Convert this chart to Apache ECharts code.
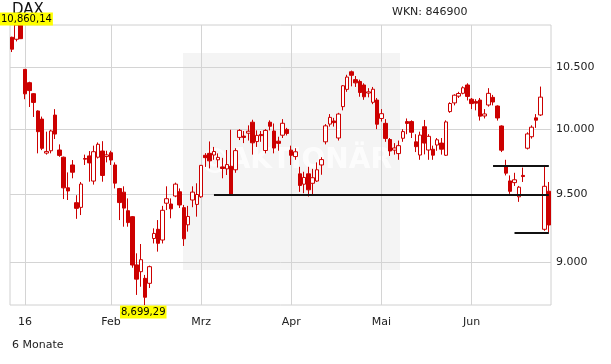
<!DOCTYPE html>
<html><head><meta charset="utf-8">
<script src="https://cdn.jsdelivr.net/npm/echarts@6/dist/echarts.min.js"></script>
<style>html,body{margin:0;padding:0;background:#fff}#c{width:611px;height:364px}</style>
</head><body><div id="c"></div>
<script>
const dates = [
'2015-12-28','2015-12-29','2015-12-30',
'2016-01-04','2016-01-05','2016-01-06','2016-01-07','2016-01-08','2016-01-11','2016-01-12','2016-01-13','2016-01-14','2016-01-15',
'2016-01-18','2016-01-19','2016-01-20','2016-01-21','2016-01-22','2016-01-25','2016-01-26','2016-01-27','2016-01-28','2016-01-29',
'2016-02-01','2016-02-02','2016-02-03','2016-02-04','2016-02-05','2016-02-08','2016-02-09','2016-02-10','2016-02-11','2016-02-12',
'2016-02-15','2016-02-16','2016-02-17','2016-02-18','2016-02-19','2016-02-22','2016-02-23','2016-02-24','2016-02-25','2016-02-26','2016-02-29',
'2016-03-01','2016-03-02','2016-03-03','2016-03-04','2016-03-07','2016-03-08','2016-03-09','2016-03-10','2016-03-11',
'2016-03-14','2016-03-15','2016-03-16','2016-03-17','2016-03-18','2016-03-21','2016-03-22','2016-03-23','2016-03-24','2016-03-29','2016-03-30','2016-03-31',
'2016-04-01','2016-04-04','2016-04-05','2016-04-06','2016-04-07','2016-04-08','2016-04-11','2016-04-12','2016-04-13','2016-04-14','2016-04-15',
'2016-04-18','2016-04-19','2016-04-20','2016-04-21','2016-04-22','2016-04-25','2016-04-26','2016-04-27','2016-04-28','2016-04-29',
'2016-05-02','2016-05-03','2016-05-04','2016-05-05','2016-05-06','2016-05-09','2016-05-10','2016-05-11','2016-05-12','2016-05-13',
'2016-05-17','2016-05-18','2016-05-19','2016-05-20','2016-05-23','2016-05-24','2016-05-25','2016-05-26','2016-05-27','2016-05-30','2016-05-31',
'2016-06-01','2016-06-02','2016-06-03','2016-06-06','2016-06-07','2016-06-08','2016-06-09','2016-06-10','2016-06-13','2016-06-14','2016-06-15',
'2016-06-16','2016-06-17','2016-06-20','2016-06-21','2016-06-22','2016-06-23','2016-06-24','2016-06-27'];

const open = [10755,10738,10858,
10485,10375,10285,10145,10080,9812,9830,10112,9836,9780,9546,9720,9434,9399,9770,9790,9597,9780,9828,9785,
9815,9720,9540,9513,9374,9330,8980,8932,8885,8850,9170,9237,9159,9430,9424,9484,9516,9397,9270,9454,9421,
9478,9795,9810,9797,9760,9705,9690,9710,9683,9935,9945,9968,10055,9902,9958,9832,10055,9985,9905,9952,9998,
9835,9785,9652,9573,9652,9580,9597,9720,9900,10040,10065,9930,10180,10320,10465,10400,10385,10356,10290,10215,10233,
10085,10046,9918,9835,9808,9928,10060,10060,9900,9797,10019,9836,9842,9875,9890,9795,10140,10210,10265,10288,10356,
10240,10222,10233,10105,10193,10255,10185,10025,9707,9598,9585,9478,9640,9850,9940,10090,10113,9237,9520];

const high = [10760,10860.14,10860,
10485,10383,10290,10150,10100,9980,9995,10160,9880,9785,9663,9758,9490,9590,9800,9828,9870,9895,9905,9830,
9830,9740,9545,9557,9466,9335,9063,9130,8909,8975,9244,9305,9410,9557,9466,9585,9541,9417,9410,9557,9580,
9720,9812,9903,9860,9810,9775,9836,9995,9850,10000,9985,10030,10075,9990,9985,10000,10070,10045,9940,10080,10010,
9870,9850,9706,9668,9706,9690,9740,9780,10040,10120,10090,10130,10356,10440,10475,10430,10400,10370,10330,10340,10250,
10160,10080,9930,9890,9910,10000,10085,10070,9960,9980,10073,9960,9870,9930,9930,10070,10215,10280,10300,10345,10370,
10250,10240,10250,10160,10330,10275,10190,10030,9760,9640,9660,9560,9700,9975,10030,10120,10343,9720,9590];

const low = [10630,10720,10740,
10240,10177,10097,9810,9835,9800,9810,9922,9783,9461,9454,9618,9314,9342,9720,9592,9570,9770,9592,9740,
9720,9541,9305,9256,9256,8960,8769,8826,8699.29,8817,9134,9075,9134,9379,9318,9475,9394,9116,9220,9400,9330,
9470,9705,9694,9760,9700,9618,9643,9492,9660,9914,9890,9910,9800,9860,9900,9810,9990,9810,9830,9930,9950,
9720,9760,9515,9505,9480,9490,9590,9645,9880,10020,10020,9910,10150,10300,10345,10340,10260,10235,10255,10200,10000,
10060,9900,9790,9800,9760,9900,9960,9930,9820,9760,9802,9760,9760,9830,9800,9790,10130,10190,10250,10280,10230,
10160,10150,10068,10085,10180,10190,10068,9820,9640,9500,9560,9440,9590,9840,9925,10010,10105,9226,9214];

const close = [10653.91,10860.14,10743.01,
10283.44,10310.10,10214.02,9979.85,9849.34,9825.07,9985.43,9960.96,9794.20,9545.27,9521.85,9664.21,9391.64,9574.16,9764.88,9736.15,9822.75,9880.82,9639.59,9798.11,
9757.88,9581.04,9434.82,9393.36,9286.23,8979.36,8879.40,9017.29,8752.87,8967.51,9206.84,9135.11,9377.21,9463.64,9388.05,9573.59,9416.77,9167.80,9331.48,9513.30,9495.40,
9717.16,9776.62,9751.92,9824.17,9778.93,9692.82,9723.09,9498.15,9831.13,9990.26,9933.85,9983.41,9892.20,9950.80,9948.64,9990.00,10022.93,9851.35,9887.94,10046.61,9965.51,
9794.64,9822.08,9563.36,9624.51,9530.62,9622.26,9682.99,9761.47,10026.10,10093.65,10051.57,10120.31,10349.59,10421.29,10435.73,10373.49,10294.35,10259.59,10299.83,10321.15,10038.97,
10123.27,9926.77,9828.25,9851.86,9869.95,9980.49,10045.44,9975.32,9862.12,9952.90,9890.19,9943.23,9795.89,9916.02,9842.29,10057.31,10205.20,10272.71,10286.31,10333.23,10262.74,
10204.44,10208.00,10103.26,10121.08,10287.68,10217.03,10088.87,9834.62,9657.44,9519.20,9606.71,9550.47,9631.36,9962.02,10015.54,10071.06,10257.03,9557.16,9268.66];

const yTicks = [9000, 9500, 10000, 10500];
const monthStarts = ['2016-01-04','2016-02-01','2016-03-01','2016-04-01','2016-05-02','2016-06-01'];
const monthLabels = ['16','Feb','Mrz','Apr','Mai','Jun'];
const supportLines = [
  {from:'2016-03-04', to:'2016-06-27', value:9490},
  {from:'2016-06-08', to:'2016-06-27', value:9712},
  {from:'2016-06-15', to:'2016-06-27', value:9209}
];
const maxLabel = {date:'2015-12-29', value:10860.14, text:'10,860,14'};
const minLabel = {date:'2016-02-11', value:8699.29, text:'8,699,29'};
const yMin = 8699.29, yMax = 10860.14;

const lg = v => Math.log10(v);
const fmtDe = n => String(n).replace(/\B(?=(\d{3})+(?!\d))/g, '.');
const FONT = 'DejaVu Sans';
const RED = '#cc0000';

const candleData = dates.map((d, i) => [lg(open[i]), lg(close[i]), lg(low[i]), lg(high[i])]);

const chart = echarts.init(document.getElementById('c'), null, {renderer: 'canvas'});
chart.setOption({
  animation: false,
  backgroundColor: '#fff',
  title: {text: 'DAX', left: 12, top: 3, padding: 0, z: 1,
    textStyle: {fontFamily: FONT, fontSize: 15, fontWeight: 'normal', color: '#111'}},
  grid: {left: 10, right: 60, top: 25, bottom: 59, show: true, borderColor: '#d0d0d0', borderWidth: 1, backgroundColor: 'transparent'},
  graphic: [
    {type: 'rect', z: 0, silent: true, shape: {x: 183, y: 53, width: 217, height: 217}, style: {fill: '#f4f4f4'}},
    {type: 'text', z: 0, silent: true, x: 392, y: 161, style: {text: '@AKTIONÄR', font: 'bold 28px "DejaVu Sans"', fill: 'rgba(255,255,255,0.75)', align: 'right', verticalAlign: 'middle'}},
    {type: 'text', silent: true, x: 392, y: 7, style: {text: 'WKN: 846900', font: '11px "DejaVu Sans"', fill: '#222', align: 'left', verticalAlign: 'top'}},
    {type: 'text', silent: true, x: 12, y: 340, style: {text: '6 Monate', font: '11px "DejaVu Sans"', fill: '#222', align: 'left', verticalAlign: 'top'}}
  ],
  xAxis: {
    type: 'category', data: dates, boundaryGap: true,
    axisLine: {show: false}, axisTick: {show: false}, splitLine: {show: false},
    axisLabel: {
      interval: (idx, val) => monthStarts.indexOf(val) >= 0,
      formatter: (val) => { const k = monthStarts.indexOf(val); return k >= 0 ? monthLabels[k] : ''; },
      color: '#222', fontFamily: FONT, fontSize: 11, margin: 12
    }
  },
  yAxis: {
    type: 'value', position: 'right', min: lg(yMin), max: lg(yMax), scale: true,
    axisLine: {show: false}, axisTick: {show: false}, splitLine: {show: false},
    axisLabel: {
      customValues: yTicks.map(lg),
      formatter: v => fmtDe(Math.round(Math.pow(10, v) / 10) * 10),
      color: '#222', fontFamily: FONT, fontSize: 11, margin: 5
    }
  },
  series: [
    {
      type: 'line', data: close.map(lg), z: 1, silent: true, symbol: 'none',
      lineStyle: {opacity: 0}, itemStyle: {opacity: 0},
      markLine: {
        z: 1, silent: true, precision: 10, symbol: ['none', 'none'], label: {show: false},
        lineStyle: {color: '#d4d4d4', width: 1, type: 'solid'},
        emphasis: {disabled: true},
        data: monthStarts.map(d => ({xAxis: d})).concat(yTicks.map(v => ({yAxis: lg(v)})))
      }
    },
    {
      type: 'candlestick', data: candleData, z: 2, barWidth: 4,
      itemStyle: {color: '#ffffff', color0: RED, borderColor: RED, borderColor0: RED, borderColorDoji: RED, borderWidth: 1},
      markLine: {
        silent: true, precision: 10, symbol: ['none', 'none'], label: {show: false},
        lineStyle: {color: '#111', width: 2, type: 'solid'},
        emphasis: {disabled: true},
        data: supportLines.map(s => [{coord: [s.from, lg(s.value)]}, {coord: [s.to, lg(s.value)]}])
      },
      markPoint: {
        z: 6, silent: true, symbol: 'rect', symbolSize: 1, itemStyle: {color: 'rgba(0,0,0,0)'},
        label: {show: true, position: 'inside', color: '#000', backgroundColor: '#ffff00', fontFamily: FONT, fontSize: 10, lineHeight: 12, padding: [1, 1, 0, 1]},
        data: [
          {coord: [maxLabel.date, lg(maxLabel.value)], label: {offset: [10, -6], formatter: maxLabel.text}},
          {coord: [minLabel.date, lg(minLabel.value)], label: {offset: [-2, 7], formatter: minLabel.text}}
        ]
      }
    }
  ]
});
</script></body></html>
